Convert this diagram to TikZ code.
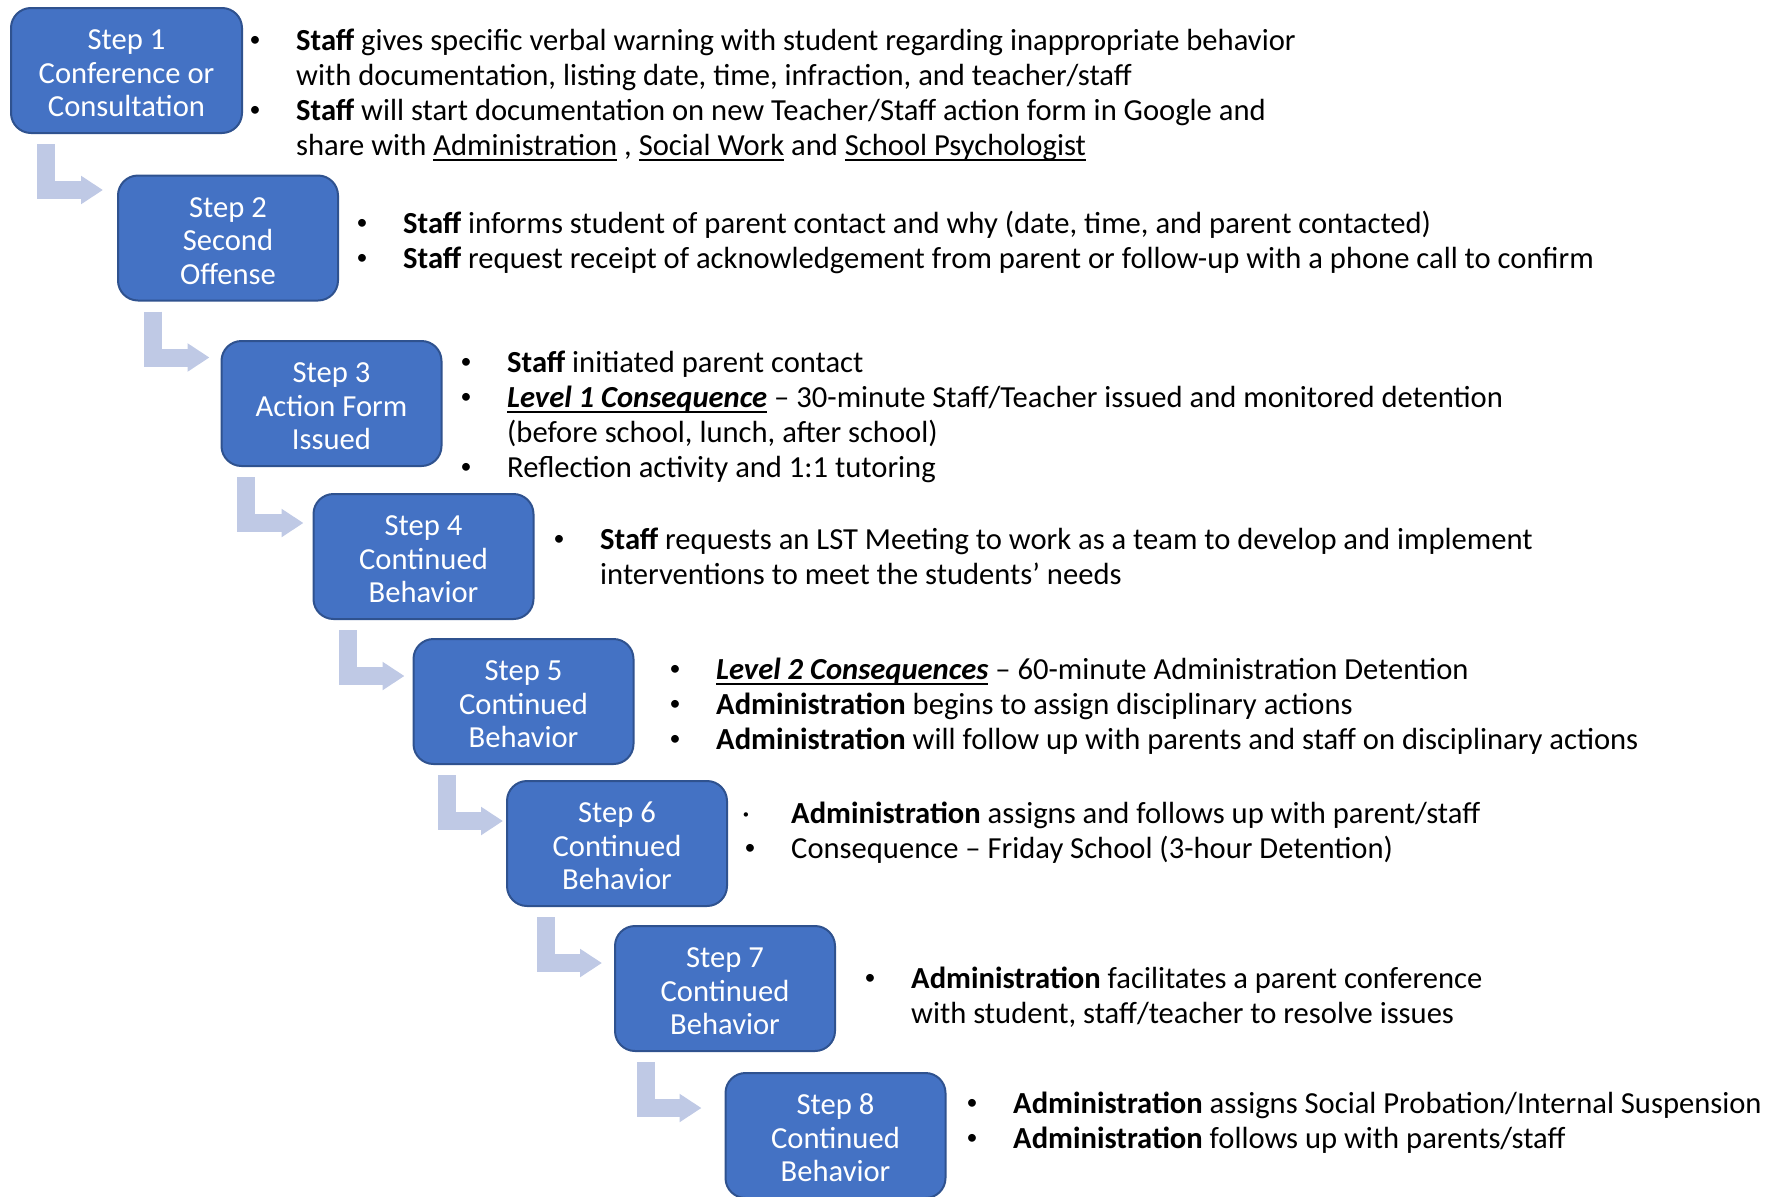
\documentclass[tikz,border=0pt]{standalone}
\usepackage{fontspec}
\setmainfont{Carlito}
\usetikzlibrary{calc,arrows.meta}
\definecolor{boxblue}{HTML}{4472C4}
\definecolor{boxline}{HTML}{2F528F}
\definecolor{turnblue}{HTML}{BFC9E5}
\newcommand{\bul}{\makebox[49pt][l]{\hspace{2.5pt}\raisebox{3.5pt}{\fontsize{22}{22}\selectfont\textbullet}}}
\newcommand{\ulined}[1]{\setbox0\hbox{#1}\rlap{\rule[-5.5pt]{\wd0}{2pt}}\box0\relax}
\newcommand{\turndraw}[4]{\draw[bentarrow] ([shift={(#3,10)}]#1.south west) |- ($(#1.south -| #2.west)+(#4,56)$)}
\tikzset{
  stepbox/.style={draw=boxline, line width=2pt, fill=boxblue, rounded corners=20pt, text=white, align=center,
    minimum width=220pt, minimum height=125pt, inner sep=0pt, text height=93pt,
    font=\fontsize{30.6}{33.5}\selectfont},
  stepnotes/.style={anchor=base west, inner sep=0pt, font=\fontsize{30.6}{35}\selectfont},
  bentarrow/.style={draw=turnblue, line width=18pt, line join=miter, -{Triangle[length=22pt,width=27pt]}}
}

\begin{document}
\begin{tikzpicture}[x=1pt, y=-1pt]
                    \useasboundingbox (0,0) rectangle (1781,1197);

                    \node[stepbox, minimum width=231pt] (s1) at (126.5,70.5) {Step 1\\Conference or\\Consultation};
                    \node[stepbox] (s2) at (228,238) {Step 2\\Second\\Offense};
                    \node[stepbox] (s3) at (331.5,403.5) {Step 3\\Action Form\\Issued};
                    \node[stepbox] (s4) at (423.5,556.5) {Step 4\\Continued\\Behavior};
                    \node[stepbox] (s5) at (523.5,701.5) {Step 5\\Continued\\Behavior};
                    \node[stepbox] (s6) at (617,843.5) {Step 6\\Continued\\Behavior};
                    \node[stepbox] (s7) at (725,988.5) {Step 7\\Continued\\Behavior};
                    \node[stepbox] (s8) at (835.5,1135.5) {Step 8\\Continued\\Behavior};

                    \turndraw{s1}{s2}{36}{-14};
                    \turndraw{s2}{s3}{36}{-11};
                    \turndraw{s3}{s4}{25}{-9};
                    \turndraw{s4}{s5}{35}{-8};
                    \turndraw{s5}{s6}{34}{-3};
                    \turndraw{s6}{s7}{40}{-12};
                    \turndraw{s7}{s8}{32}{-23};

                    \node[stepnotes] (t1) at (247,50) {\begin{tabular}[t]{@{}l@{}l@{}}
                      \bul & \textbf{Staff} gives specific verbal warning with student regarding inappropriate behavior\\
                      & with documentation, listing date, time, infraction, and teacher/staff\\
                      \bul & \textbf{Staff} will start documentation on new Teacher/Staff action form in Google and\\
                      & share with \ulined{Administration} , \ulined{Social Work} and \ulined{School Psychologist}
                    \end{tabular}};
                    \node[stepnotes] (t2) at (354,233) {\begin{tabular}[t]{@{}l@{}l@{}}
                      \bul & \textbf{Staff} informs student of parent contact and why (date, time, and parent contacted)\\
                      \bul & \textbf{Staff} request receipt of acknowledgement from parent or follow-up with a phone call to confirm
                    \end{tabular}};
                    \node[stepnotes] (t3) at (458,372) {\begin{tabular}[t]{@{}l@{}l@{}}
                      \bul & \textbf{Staff} initiated parent contact\\
                      \bul & \ulined{\textbf{\textit{Level 1 Consequence}}} – 30-minute Staff/Teacher issued and monitored detention\\
                      & (before school, lunch, after school)\\
                      \bul & Reflection activity and 1:1 tutoring
                    \end{tabular}};
                    \node[stepnotes] (t4) at (551,549) {\begin{tabular}[t]{@{}l@{}l@{}}
                      \bul & \textbf{Staff} requests an LST Meeting to work as a team to develop and implement\\
                      & interventions to meet the students’ needs
                    \end{tabular}};
                    \node[stepnotes] (t5) at (667,679) {\begin{tabular}[t]{@{}l@{}l@{}}
                      \bul & \ulined{\textbf{\textit{Level 2 Consequences}}} – 60-minute Administration Detention\\
                      \bul & \textbf{Administration} begins to assign disciplinary actions\\
                      \bul & \textbf{Administration} will follow up with parents and staff on disciplinary actions
                    \end{tabular}};
                    \node[stepnotes] (t6) at (742,823) {\begin{tabular}[t]{@{}l@{}l@{}}
                      \makebox[45pt][l]{\textperiodcentered} & \textbf{Administration} assigns and follows up with parent/staff\\
                      \bul & Consequence – Friday School (3-hour Detention)
                    \end{tabular}};
                    \node[stepnotes] (t7) at (862,988) {\begin{tabular}[t]{@{}l@{}l@{}}
                      \bul & \textbf{Administration} facilitates a parent conference\\
                      & with student, staff/teacher to resolve issues
                    \end{tabular}};
                    \node[stepnotes] (t8) at (964,1113) {\begin{tabular}[t]{@{}l@{}l@{}}
                      \bul & \textbf{Administration} assigns Social Probation/Internal Suspension\\
                      \bul & \textbf{Administration} follows up with parents/staff
                    \end{tabular}};
                \end{tikzpicture}
\end{document}
